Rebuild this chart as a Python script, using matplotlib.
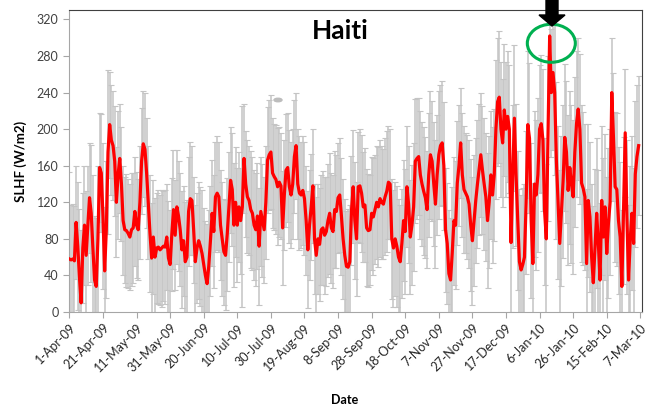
# === Bibliotecas ===
import numpy as np
import pandas as pd
import matplotlib.pyplot as plt
from matplotlib.patches import Ellipse, Polygon

plt.rcParams['font.family'] = ['Lato', 'DejaVu Sans']

# === Dados (SLHF diario, Haiti, 1-Apr-09 ... 6-Mar-10) ===
data_inicio = '2009-04-01'
slhf = [
    58, 57, 58, 56, 98, 72, 38, 10, 70, 95,
    62, 95, 125, 108, 70, 35, 28, 80, 158, 152,
    105, 45, 90, 175, 205, 188, 182, 165, 120, 150,
    168, 140, 100, 90, 89, 86, 82, 90, 92, 110,
    95, 90, 120, 165, 184, 178, 152, 120, 86, 59,
    82, 60, 70, 71, 68, 70, 72, 71, 82, 59,
    52, 85, 112, 84, 115, 105, 90, 68, 78, 55,
    60, 110, 124, 122, 90, 55, 70, 78, 72, 64,
    52, 40, 31, 50, 78, 108, 88, 126, 130, 126,
    95, 80, 66, 62, 85, 115, 144, 134, 95, 120,
    95, 115, 100, 115, 168, 140, 126, 122, 112, 108,
    95, 90, 105, 72, 110, 100, 90, 120, 166, 172,
    175, 152, 148, 145, 137, 142, 138, 92, 128, 155,
    158, 137, 128, 140, 170, 182, 140, 130, 128, 133,
    124, 100, 68, 95, 115, 138, 80, 62, 80, 74,
    90, 92, 84, 88, 100, 108, 92, 88, 112, 110,
    125, 128, 105, 80, 62, 50, 49, 55, 111, 137,
    100, 80, 137, 138, 130, 115, 117, 92, 89, 90,
    108, 104, 112, 120, 115, 124, 120, 118, 126, 132,
    142, 140, 80, 70, 80, 72, 60, 55, 75, 100,
    88, 137, 118, 82, 95, 115, 165, 168, 170, 150,
    140, 132, 125, 112, 150, 172, 165, 140, 118, 150,
    172, 182, 185, 160, 90, 75, 42, 35, 65, 100,
    95, 141, 160, 185, 150, 134, 130, 126, 118, 95,
    78, 100, 122, 140, 156, 172, 155, 140, 126, 100,
    120, 150, 128, 150, 200, 230, 235, 200, 185, 221,
    200, 214, 200, 76, 148, 212, 150, 100, 55, 46,
    52, 60, 120, 205, 190, 100, 53, 140, 128, 150,
    200, 206, 188, 110, 80, 190, 302, 240, 262, 240,
    166, 120, 75, 110, 143, 191, 175, 133, 158, 140,
    126, 175, 206, 222, 200, 141, 135, 126, 53, 122,
    104, 60, 32, 70, 108, 75, 35, 122, 82, 115,
    64, 97, 120, 240, 191, 137, 134, 100, 82, 28,
    111, 196, 104, 35, 80, 108, 75, 151, 170, 182,
]

# desvio (barras de erro)
erro = [
    95, 60, 60, 60, 62, 70, 75, 80, 60, 65,
    70, 65, 60, 75, 80, 70, 75, 80, 60, 65,
    80, 70, 75, 90, 58, 60, 60, 60, 60, 70,
    60, 62, 60, 58, 62, 60, 58, 62, 60, 60,
    58, 55, 62, 58, 58, 62, 60, 62, 64, 60,
    62, 65, 60, 62, 60, 64, 60, 62, 58, 62,
    60, 62, 65, 60, 62, 60, 62, 64, 60, 65,
    62, 60, 62, 60, 58, 62, 60, 64, 65, 70,
    62, 60, 65, 62, 60, 58, 62, 60, 62, 60,
    60, 62, 58, 60, 62, 60, 58, 62, 68, 60,
    62, 60, 58, 110, 60, 58, 62, 60, 64, 62,
    60, 62, 58, 64, 60, 62, 58, 62, 58, 60,
    62, 60, 58, 60, 64, 60, 58, 62, 60, 62,
    60, 62, 58, 60, 62, 58, 60, 62, 58, 60,
    62, 60, 64, 60, 58, 62, 60, 64, 60, 62,
    60, 62, 64, 60, 62, 66, 60, 62, 64, 62,
    60, 62, 64, 66, 62, 60, 64, 62, 60, 62,
    64, 62, 60, 62, 64, 60, 62, 64, 62, 60,
    62, 64, 60, 62, 66, 64, 62, 60, 64, 66,
    62, 60, 66, 64, 62, 66, 64, 62, 60, 66,
    68, 66, 64, 62, 66, 70, 68, 66, 64, 70,
    68, 70, 66, 64, 68, 70, 66, 68, 70, 66,
    70, 66, 68, 70, 68, 66, 70, 68, 72, 70,
    70, 68, 66, 60, 68, 70, 66, 68, 70, 72,
    70, 72, 68, 70, 72, 68, 70, 72, 70, 74,
    72, 70, 74, 72, 76, 70, 72, 74, 70, 72,
    74, 72, 70, 76, 78, 80, 78, 76, 80, 82,
    84, 80, 78, 80, 82, 85, 88, 80, 82, 84,
    70, 75, 78, 80, 82, 90, 60, 70, 85, 90,
    86, 84, 80, 82, 84, 80, 78, 82, 84, 86,
    84, 82, 80, 78, 82, 86, 84, 80, 82, 84,
    82, 80, 84, 86, 82, 80, 84, 82, 86, 80,
    84, 82, 80, 60, 70, 82, 84, 80, 82, 84,
    80, 70, 84, 82, 80, 84, 82, 80, 78, 76,
]

rotulos_x = ['1-Apr-09', '21-Apr-09', '11-May-09', '31-May-09', '20-Jun-09',
             '10-Jul-09', '30-Jul-09', '19-Aug-09', '8-Sep-09', '28-Sep-09',
             '18-Oct-09', '7-Nov-09', '27-Nov-09', '17-Dec-09', '6-Jan-10',
             '26-Jan-10', '15-Feb-10', '7-Mar-10']
rotulos_y = [0, 40, 80, 120, 160, 200, 240, 280, 320]

datas = pd.date_range(data_inicio, periods=len(slhf), freq='D')
ticks_x = pd.to_datetime(rotulos_x, format='%d-%b-%y')

# === Figura ===
fig = plt.figure(figsize=(6.58, 4.11), dpi=100)
ax = fig.add_axes([0.1049, 0.2409, 0.8708, 0.7348])

# barras de erro
_, caps, barras = ax.errorbar(datas, slhf, yerr=erro, fmt='none',
                              ecolor='#c4c4c4', elinewidth=1.1,
                              capsize=2.2, capthick=0.8, zorder=1)
for c in caps:
    c.set_color('#8a8a8a')

# curva principal
ax.plot(datas, slhf, color='#ff0000', linewidth=2.3,
        solid_joinstyle='round', zorder=3)

ax.set_ylim(0, 330.4)
ax.set_xlim(datas[0] - pd.Timedelta(hours=5), datas[0] + pd.Timedelta(days=341))
ax.set_yticks(rotulos_y)
ax.set_xticks(ticks_x)
ax.set_xticklabels(rotulos_x, rotation=45, ha='right', rotation_mode='anchor',
                   fontsize=9, color='#262626')
ax.tick_params(axis='y', labelsize=9, labelcolor='#404040', direction='out',
               length=4, color='#a6a6a6')
ax.tick_params(axis='x', direction='out', length=4, color='#a6a6a6', pad=3)

for lado in ['left', 'bottom']:
    ax.spines[lado].set_color('#a6a6a6')
for lado in ['top', 'right']:
    ax.spines[lado].set_color('#404040')

ax.set_ylabel('SLHF (W/m2)', fontsize=9.5, fontweight='bold', labelpad=7)
fig.text(345 / 658, 1 - 400 / 411, 'Date', fontsize=9, fontweight='bold',
         ha='center', va='center')
fig.text(340 / 658, 1 - 31 / 411, 'Haiti', fontsize=19, fontweight='bold',
         ha='center', va='center')

# circulo verde no pico (terremoto 12-Jan-10)
pico = datas[int(np.argmax(slhf))]
ax.add_patch(Ellipse((pico + pd.Timedelta(days=1), 294), width=28.6, height=41.6,
                     fill=False, edgecolor='#00b050', linewidth=2.2, zorder=4))

# seta preta
W, H = 658, 411
seta = [(546, 0), (558, 0), (558, 15), (565, 15), (552, 26), (539, 15), (546, 15)]
fig.patches.append(Polygon([(x / W, 1 - y / H) for x, y in seta], closed=True,
                           transform=fig.transFigure, color='black'))

# mancha cinza
fig.patches.append(Ellipse((278 / W, 1 - 100 / H), 8 / W, 3.5 / H,
                           transform=fig.transFigure, color='#bdbdbd'))

plt.savefig('out.png', dpi=100)
